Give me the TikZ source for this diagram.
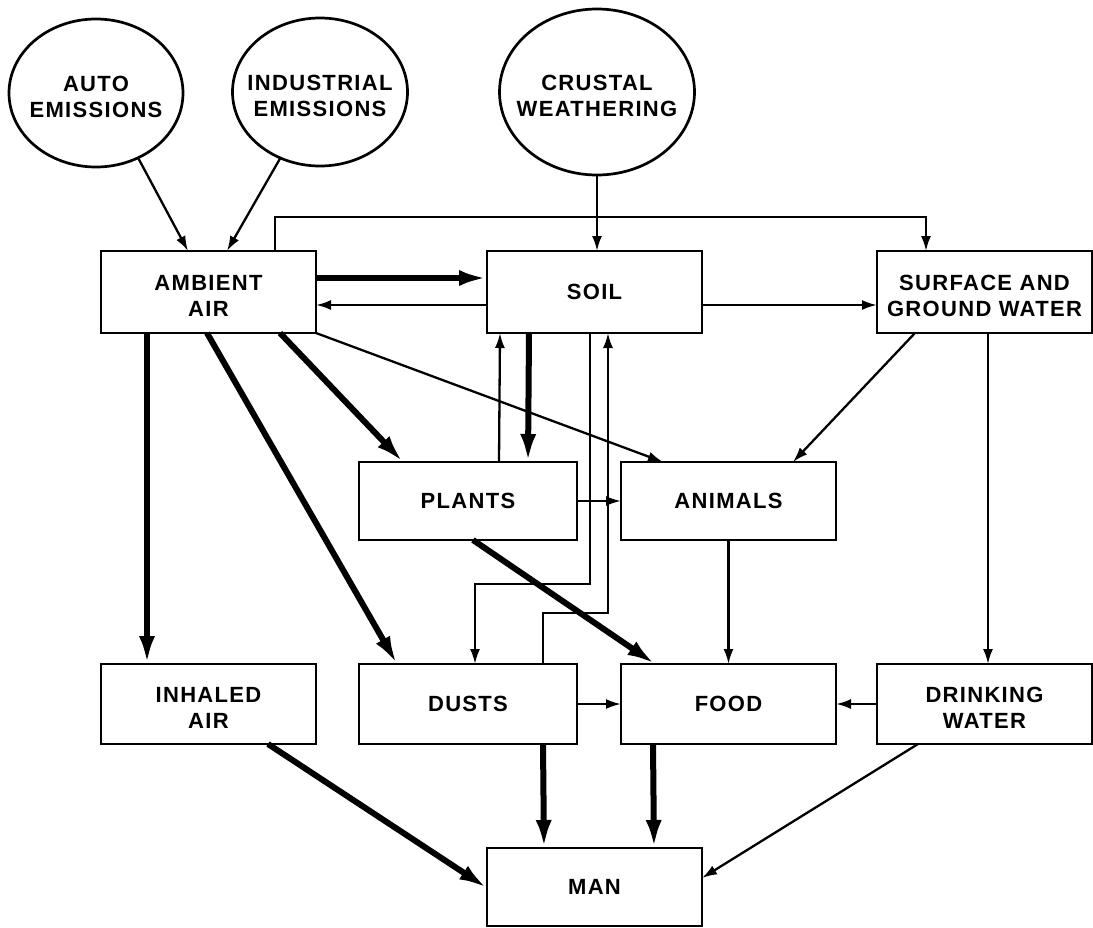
\documentclass[tikz,border=0pt]{standalone}
\usepackage{fontspec}
\setmainfont{Liberation Sans}[LetterSpace=6]
\usetikzlibrary{calc,arrows.meta,shapes.geometric}
\newcommand\lblfont{\fontsize{22}{25.5}\selectfont\bfseries}
\newcommand\zw[1]{\makebox[0pt][c]{#1}}
\newcommand\tallstrut{\rule{0pt}{23pt}}
\begin{document}
\begin{tikzpicture}[x=1pt,y=-1pt,
  box/.style={draw,line width=2.7pt,rectangle,minimum width=215pt,minimum height=82pt,inner sep=0pt,outer sep=0pt,align=center,font=\lblfont},
  oval/.style={draw,line width=2.7pt,ellipse,inner sep=0pt,outer sep=0pt,align=center,font=\lblfont},
  thinarrow/.style={line width=2.3pt,-{Latex[length=15pt,width=10pt]}},
  thickarrow/.style={line width=6pt,-{Latex[length=28pt,width=16pt]}},
]
\fill[white] (0,0) rectangle (1093,927);
\useasboundingbox (0,0) rectangle (1093,927);

% sources
\node[oval,minimum width=174pt,minimum height=148pt] (auto) at (96,93) {\tallstrut\zw{AUTO}\\\zw{EMISSIONS}};
\node[oval,minimum width=175pt,minimum height=148pt] (ind) at (320,92) {\tallstrut\zw{INDUSTRIAL}\\\zw{EMISSIONS}};
\node[oval,minimum width=195pt,minimum height=166pt] (crust) at (597,92) {\tallstrut\zw{CRUSTAL}\\\zw{WEATHERING}};

% boxes
\node[box] (air) at (208.5,292) {\tallstrut AMBIENT\\AIR};
\node[box] (soil) at (594.5,292) {SOIL};
\node[box] (surf) at (984.5,292) {\tallstrut SURFACE AND\\GROUND WATER};
\node[box,minimum width=218pt,minimum height=78pt] (plants) at (468,501) {PLANTS};
\node[box,minimum height=78pt] (animals) at (728.5,501) {ANIMALS};
\node[box,minimum height=80pt] (inhaled) at (208.5,704) {\tallstrut INHALED\\AIR};
\node[box,minimum width=218pt,minimum height=80pt] (dusts) at (468,704) {DUSTS};
\node[box,minimum height=80pt] (food) at (728.5,704) {FOOD};
\node[box,minimum height=80pt] (drink) at (984.5,704) {\tallstrut DRINKING\\WATER};
\node[box,minimum height=78pt] (man) at (594.5,887) {MAN};

% connectors
\draw[thinarrow] (auto.-57) -- ($(air.north west)+(87,0)$);
\draw[thinarrow] (ind.239) -- ($(air.north west)+(126,0)$);
\draw[thinarrow] (crust.south) -- (crust.south |- soil.north);
\draw[thinarrow] ($(air.north west)+(174,0)$) -- ++(0,-34) -| ($(surf.north west)+(49,0)$);

\draw[thickarrow] ($(air.north east)+(0,27)$) -- ($(soil.north west)+(0,27)$);
\draw[thinarrow] ($(soil.north west)+(0,54)$) -- ($(air.north east)+(0,54)$);
\draw[thinarrow] ($(soil.north east)+(0,54)$) -- ($(surf.north west)+(0,54)$);

\draw[thickarrow] ($(air.south west)+(46,0)$) -- ($(inhaled.north west)+(46,0)$);
\draw[thickarrow] ($(air.south west)+(106,0)$) -- ($(dusts.north west)+(38,0)$);
\draw[thickarrow] ($(air.south west)+(179,0)$) -- ($(plants.north west)+(44,0)$);
\draw[thinarrow] (air.south east) -- ($(animals.north west)+(42,0)$);

\draw[thickarrow] ($(soil.south west)+(42,0)$) -- ($(plants.north west)+(169,0)$);
\draw[thinarrow] ($(plants.north west)+(140,0)$) -- ($(soil.south west)+(13,0)$);
\draw[thinarrow] ($(soil.south west)+(103,0)$) -- ++(0,251) -| ($(dusts.north west)+(116,0)$);
\draw[thinarrow] ($(dusts.north west)+(184,0)$) -- ++(0,-51) -| ($(soil.south west)+(121,0)$);

\draw[thinarrow] (plants.east) -- (animals.west);
\draw[thinarrow] ($(surf.south west)+(38,0)$) -- ($(animals.north west)+(172,0)$);
\draw[thinarrow] ($(surf.south west)+(111,0)$) -- ($(drink.north west)+(111,0)$);

\draw[thickarrow] ($(plants.south west)+(114,0)$) -- ($(food.north west)+(34,0)$);
\draw[thinarrow] (animals.south) -- (food.north);
\draw[thinarrow] (dusts.east) -- (food.west);
\draw[thinarrow] (drink.west) -- (food.east);

\draw[thickarrow] ($(inhaled.south west)+(167,0)$) -- ($(man.north west)+(0,40)$);
\draw[thickarrow] ($(dusts.south west)+(184,0)$) -- ($(man.north west)+(57,0)$);
\draw[thickarrow] ($(food.south west)+(32,0)$) -- ($(man.north west)+(167,0)$);
\draw[thinarrow] ($(drink.south west)+(41,0)$) -- ($(man.north east)+(0,30)$);
\end{tikzpicture}
\end{document}
